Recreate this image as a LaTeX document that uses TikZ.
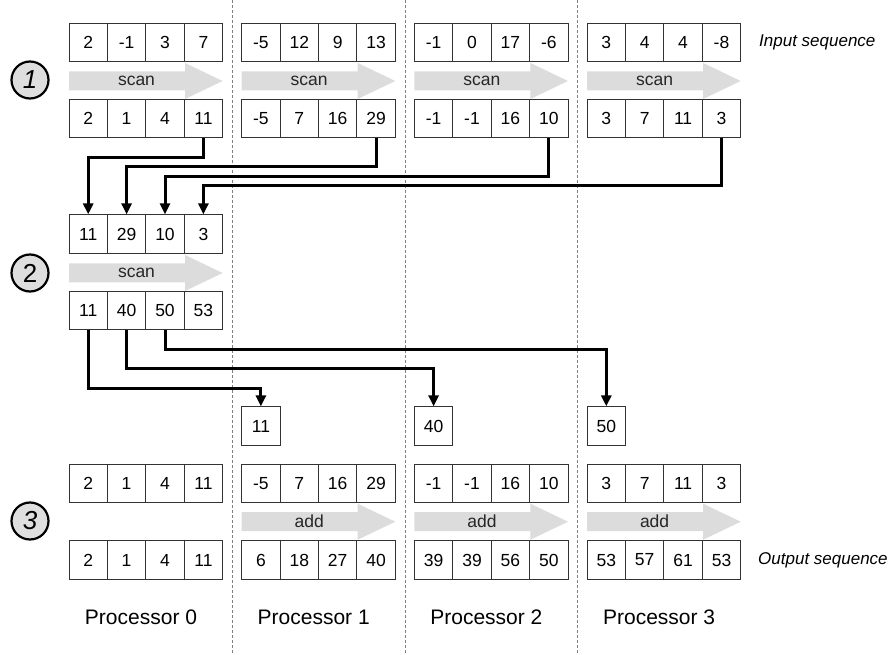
\documentclass[tikz,border=0pt]{standalone}
\usepackage{fontspec}
\setmainfont{Liberation Sans}
\usetikzlibrary{arrows.meta}
\definecolor{arrowgray}{HTML}{DCDCDC}
\definecolor{circgray}{HTML}{DEDEDE}
\definecolor{divgray}{HTML}{808080}
\newcommand{\mkrow}[4]{%
  \foreach \v [count=\i from 0] in {#4} {
    \node[cell] (#1-\i) at ({#2+(\i+0.5)*38.4},#3) {\v};
  }}
\newcommand{\bigarrow}[4]{%
  \fill[arrowgray] (#2,{#3-9.5}) -- ({#2+116},{#3-9.5}) -- ({#2+116},{#3-18}) -- ({#2+153.6},#3)
    -- ({#2+116},{#3+18}) -- ({#2+116},{#3+9.5}) -- (#2,{#3+9.5}) -- cycle;
  \node[oplabel] (#1) at ({#2+67.5},#3) {#4};}
\begin{document}
\begin{tikzpicture}[x=1pt,y=-1pt,
  cell/.style={draw=black!80, fill=white, line width=0.9pt, minimum width=38.4pt, minimum height=38.4pt, inner sep=0pt, font=\fontsize{17.5}{19}\selectfont},
  oplabel/.style={font=\fontsize{17.5}{19}\selectfont, text=black!85, inner sep=0pt},
  stepcircle/.style={circle, draw=black, line width=2.2pt, fill=circgray, minimum size=37pt, inner sep=0pt, font=\fontsize{26}{28}\selectfont},
  conn/.style={line width=3pt, -{Triangle[length=11pt,width=10pt]}},
  divider/.style={draw=divgray, line width=1pt, dash pattern=on 3pt off 2pt},
  proclabel/.style={font=\fontsize{21}{24}\selectfont, inner sep=0pt},
  seqlabel/.style={font=\fontsize{17}{19}\selectfont\itshape, anchor=west, inner sep=0pt}]
\useasboundingbox (0,0) rectangle (892,655);
% dividers
\foreach \x in {232.3,405,577.7} \draw[divider] (\x,0) -- (\x,655);
% stage 1
\mkrow{A0}{69}{42.3}{2,-1,3,7}
\mkrow{A1}{241.7}{42.3}{-5,12,9,13}
\mkrow{A2}{414.4}{42.3}{-1,0,17,-6}
\mkrow{A3}{587.1}{42.3}{3,4,4,-8}
\bigarrow{s10}{69}{81}{scan}
\bigarrow{s11}{241.7}{81}{scan}
\bigarrow{s12}{414.4}{81}{scan}
\bigarrow{s13}{587.1}{81}{scan}
\mkrow{B0}{69}{118.5}{2,1,4,11}
\mkrow{B1}{241.7}{118.5}{-5,7,16,29}
\mkrow{B2}{414.4}{118.5}{-1,-1,16,10}
\mkrow{B3}{587.1}{118.5}{3,7,11,3}
% stage 2
\mkrow{C}{69}{234}{11,29,10,3}
\bigarrow{s2}{69}{273}{scan}
\mkrow{D}{69}{310.7}{11,40,50,53}
\node[cell] (S1) at (260.9,426) {11};
\node[cell] (S2) at (433.6,426) {40};
\node[cell] (S3) at (606.3,426) {50};
% stage 3
\mkrow{E0}{69}{483.5}{2,1,4,11}
\mkrow{E1}{241.7}{483.5}{-5,7,16,29}
\mkrow{E2}{414.4}{483.5}{-1,-1,16,10}
\mkrow{E3}{587.1}{483.5}{3,7,11,3}
\bigarrow{a1}{241.7}{521.7}{add}
\bigarrow{a2}{414.4}{521.7}{add}
\bigarrow{a3}{587.1}{521.7}{add}
\mkrow{F0}{69}{560}{2,1,4,11}
\mkrow{F1}{241.7}{560}{6,18,27,40}
\mkrow{F2}{414.4}{560}{39,39,56,50}
\mkrow{F3}{587.1}{560}{53,57,61,53}
% connectors stage 1
\draw[conn] (B0-3.south) -- ++(0,19.3) -| (C-0.north);
\draw[conn] (B1-3.south) -- ++(0,28.3) -| (C-1.north);
\draw[conn] (B2-3.south) -- ++(0,38.3) -| (C-2.north);
\draw[conn] (B3-3.south) -- ++(0,47.3) -| (C-3.north);
% connectors stage 2
\draw[conn] (D-0.south) -- ++(0,57.7) -| (S1.north);
\draw[conn] (D-1.south) -- ++(0,38.3) -| (S2.north);
\draw[conn] (D-2.south) -- ++(0,19) -| (S3.north);
% circles
\node[stepcircle] (c1) at (30,80) {\itshape 1};
\node[stepcircle] (c2) at (30,273) {2};
\node[stepcircle] (c3) at (30,521) {\itshape 3};
% labels
\node[seqlabel] (inseq) at (759,42.3) {Input sequence};
\node[seqlabel] (outseq) at (758,560) {Output sequence};
\node[proclabel] (p0) at (141,617) {Processor 0};
\node[proclabel] (p1) at (313.7,617) {Processor 1};
\node[proclabel] (p2) at (486.4,617) {Processor 2};
\node[proclabel] (p3) at (659.1,617) {Processor 3};
\end{tikzpicture}
\end{document}
